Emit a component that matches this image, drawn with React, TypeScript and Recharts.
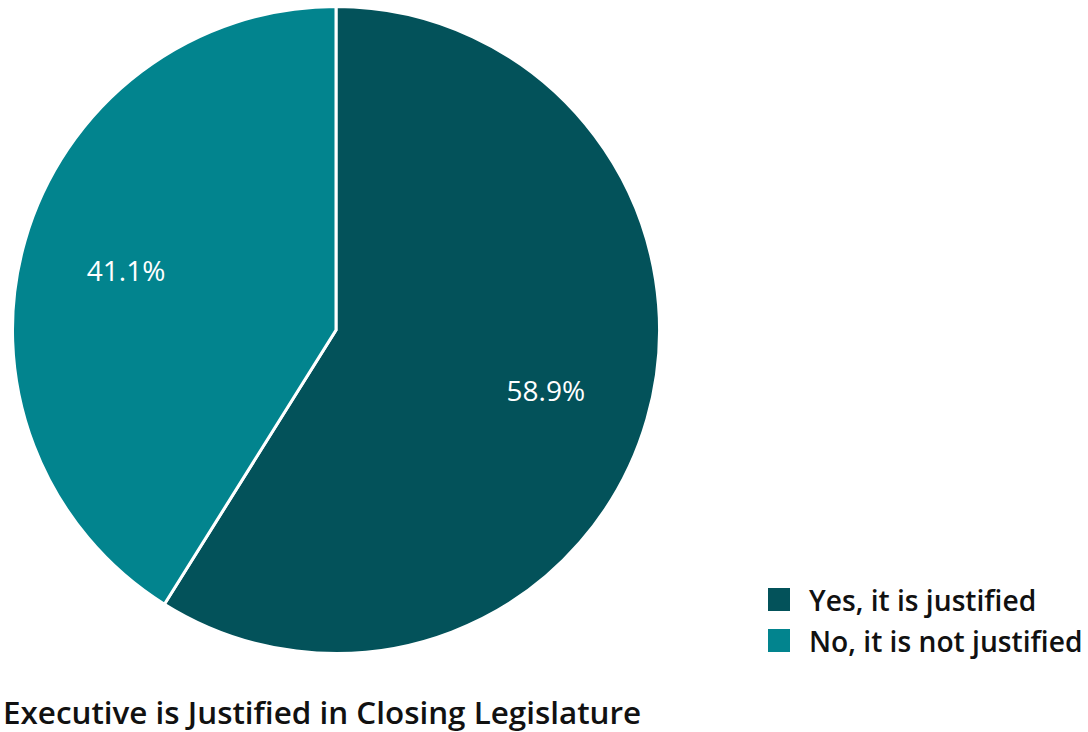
import React from "react";
import { PieChart, Pie, Cell, Legend } from "recharts";

const categories = ["Yes, it is justified", "No, it is not justified"];
const values = [58.9, 41.1];
const colors = ["#03525A", "#02848E"];
const title = "Executive is Justified in Closing Legislature";

const data = categories.map((name, i) => ({ name, value: values[i] }));

const RAD = Math.PI / 180;
const renderLabel = (props: any) => {
  const { cx, cy, midAngle, outerRadius, value } = props;
  const r = outerRadius * 0.675;
  const x = cx + r * Math.cos(-midAngle * RAD);
  const y = cy + r * Math.sin(-midAngle * RAD);
  return (
    <text
      x={x}
      y={y}
      fill="#ffffff"
      textAnchor="middle"
      dominantBaseline="central"
      fontFamily="'Open Sans', sans-serif"
      fontSize={28}
      fontWeight={500}
    >
      {value.toFixed(1)}%
    </text>
  );
};

const renderLegend = () => (
  <div style={{ fontFamily: "'Open Sans', sans-serif" }}>
    {data.map((d, i) => (
      <div
        key={d.name}
        style={{ display: "flex", alignItems: "center", height: 41 }}
      >
        <div
          style={{
            width: 22,
            height: 23,
            background: colors[i],
            marginRight: 19,
          }}
        />
        <span style={{ fontSize: 28.2, fontWeight: 600, color: "#111", whiteSpace: "nowrap" }}>
          {d.name}
        </span>
      </div>
    ))}
  </div>
);

export default function App() {
  return (
    <div style={{ position: "absolute", left: 0, top: 0, width: 1088, height: 732, background: "#fff" }}>
      <PieChart width={1088} height={732} margin={{ top: 0, right: 0, bottom: 0, left: 0 }}>
        <Pie
          data={data}
          dataKey="value"
          nameKey="name"
          cx={336}
          cy={330}
          outerRadius={323.5}
          startAngle={90}
          endAngle={-270}
          stroke="#ffffff"
          strokeWidth={3}
          label={renderLabel}
          labelLine={false}
          isAnimationActive={false}
        >
          {data.map((d, i) => (
            <Cell key={d.name} fill={colors[i]} />
          ))}
        </Pie>
        <Legend
          content={renderLegend}
          layout="vertical"
          wrapperStyle={{ position: "absolute", left: 768, top: 579, width: 320 }}
        />
      </PieChart>
      <div
        style={{
          position: "absolute",
          left: 3,
          top: 693,
          fontFamily: "'Open Sans', sans-serif",
          fontSize: 31.4,
          fontWeight: 600,
          color: "#111",
          whiteSpace: "nowrap",
          lineHeight: "38px",
        }}
      >
        {title}
      </div>
    </div>
  );
}
